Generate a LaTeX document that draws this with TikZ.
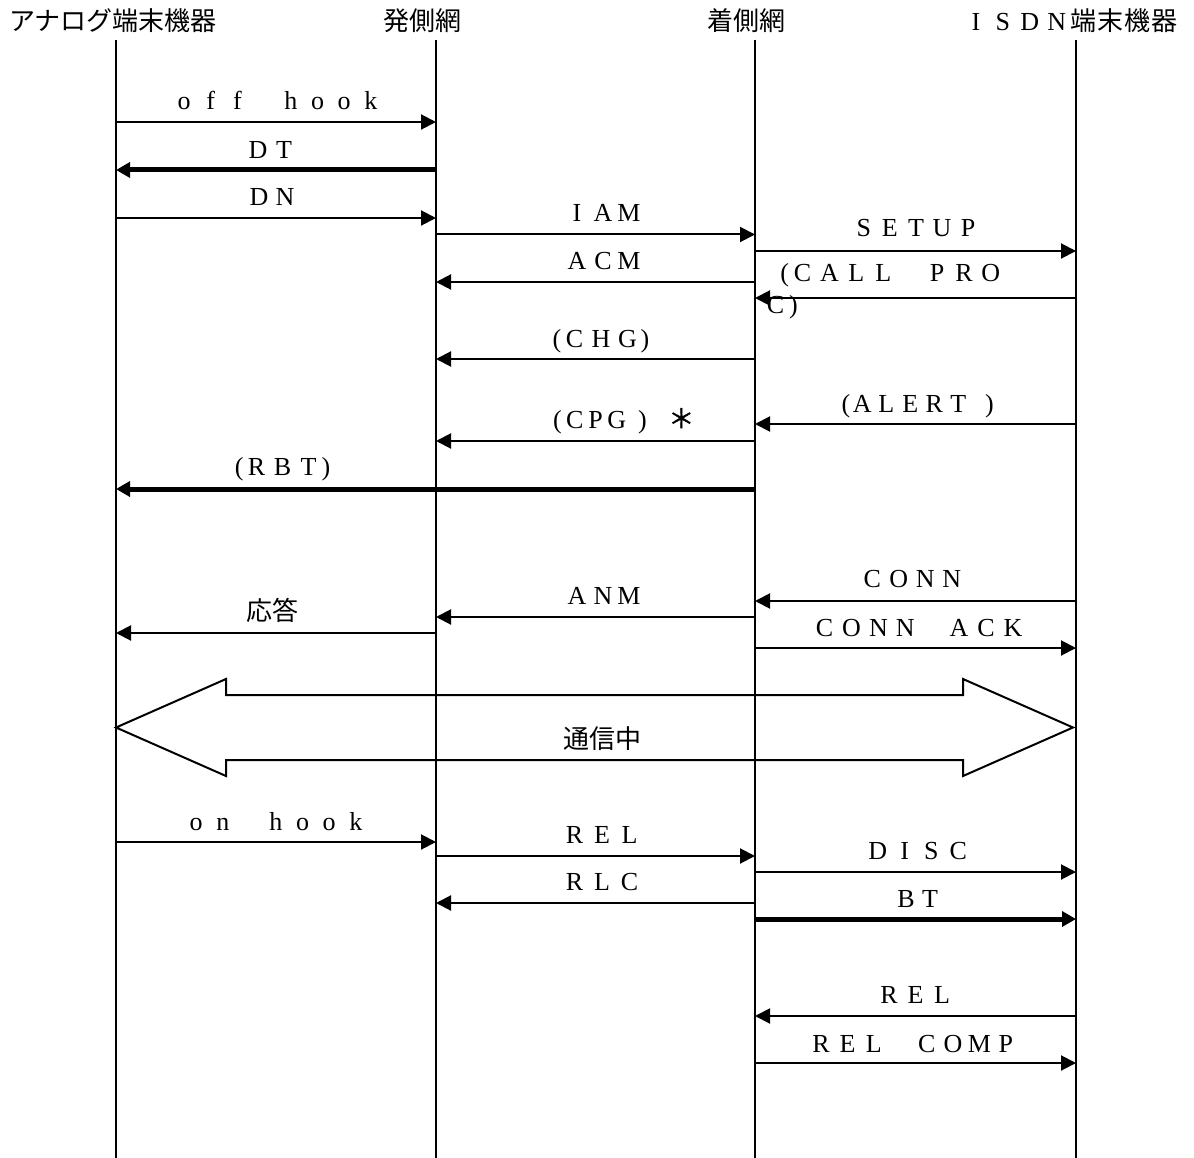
\documentclass[tikz,border=0pt]{standalone}
\usepackage{fontspec}
\setmainfont{Liberation Serif}
\newfontfamily\jp{Noto Sans CJK JP}
\newfontfamily\jpb[FakeBold=1.5]{Noto Sans CJK JP}
\usetikzlibrary{arrows.meta}

\newlength\fwp
\makeatletter
\def\fw@stop{\fw@stop}
\newcommand\fw[2][26pt]{\begingroup\setlength\fwp{#1}\fw@loop#2\fw@stop\endgroup}
\def\fw@loop#1{\ifx#1\fw@stop\else\makebox[\fwp][c]{#1}\expandafter\fw@loop\fi}
\makeatother
\newcommand\lp{\makebox[\fwp][r]{(}}
\newcommand\rp{\makebox[\fwp][l]{)}}

\tikzset{
  lifeline/.style={line width=2.2pt},
  msg/.style={line width=2pt,-{Triangle[length=15pt,width=15pt]}},
  thickmsg/.style={line width=5pt,-{Triangle[length=14pt,width=15pt]}},
  lbl/.style={anchor=base,inner sep=0pt,font=\fontsize{26}{30}\selectfont},
  jlbl/.style={anchor=base,inner sep=0pt,font=\jp\fontsize{26}{30}\selectfont},
  hdr/.style={anchor=base,inner sep=0pt,font=\jp\fontsize{26}{30}\selectfont},
  bigarrow/.style={line width=2pt,line join=miter}
}
\newcommand\msg[5]{%
  \coordinate (#1-s) at (#2,#4);
  \coordinate (#1-e) at (#3,#4);
  \draw[#5] (#1-s) -- (#1-e);}

\begin{document}
\begin{tikzpicture}[x=1pt,y=-1pt]
\useasboundingbox (0,0) rectangle (1194,1158);
\def\LA{116}\def\LB{436}\def\LC{755}\def\LD{1076}

% headers
\node[hdr] (h1) at (113,30.5) {アナログ端末機器};
\node[hdr] (h2) at (422,30.5) {発側網};
\node[hdr] (h3) at (746,30.5) {着側網};
\node[hdr,anchor=base east] (h4) at (1178,30.5) {{\rmfamily\fontsize{26}{30}\selectfont\fw[26.9pt]{ISDN}}\fw[26.9pt]{端末機器}};

% lifelines
\foreach \n/\x in {1/\LA,2/\LB,3/\LC,4/\LD}{
  \coordinate (t\n) at (\x,40);
  \coordinate (b\n) at (\x,1158);
  \draw[lifeline] (t\n) -- (b\n);
}

% messages
\msg{m1}{\LA}{\LB}{122}{msg}
\node[lbl] (l1) at (277.5,110) {\fw[26.7pt]{off~hook}};
\msg{m2}{\LB}{\LA}{170}{thickmsg}
\node[lbl] (l2) at (271,159) {\fw{DT}};
\msg{m3}{\LA}{\LB}{218}{msg}
\node[lbl] (l3) at (272,206) {\fw{DN}};
\msg{m4}{\LB}{\LC}{234.5}{msg}
\node[lbl] (l4) at (603,222) {\fw{IAM}};
\msg{m5}{\LC}{\LD}{251}{msg}
\node[lbl] (l5) at (916,237) {\fw[26.1pt]{SETUP}};
\msg{m6}{\LC}{\LB}{282}{msg}
\node[lbl] (l6) at (603,270) {\fw{ACM}};
\msg{m7}{\LD}{\LC}{298}{msg}
\node[lbl,anchor=base west] (l7a) at (762,282) {\fw[26.9pt]{\lp CALL~PRO}};
\node[lbl,anchor=base west] (l7b) at (762,313) {\fw[26.9pt]{C\rp}};
\msg{m8}{\LC}{\LB}{359}{msg}
\node[lbl] (l8) at (601,347) {\fw[26.5pt]{\lp CHG\rp}};
\msg{m9}{\LD}{\LC}{424}{msg}
\node[lbl,anchor=base west] (l9) at (826,412) {\fw[24pt]{\lp ALERT}\hspace{15pt})};
\msg{m10}{\LC}{\LB}{441}{msg}
\node[lbl,anchor=base west] (l10) at (553,428) {\makebox[11pt][l]{(}\fw[21pt]{CPG}\hspace{11pt})\hspace{22pt}\makebox[25pt][c]{\jpb ＊}};
\msg{m11}{\LC}{\LA}{489}{thickmsg}
\node[lbl] (l11) at (282.5,475) {\fw{\lp RBT\rp}};
\msg{m12}{\LD}{\LC}{601}{msg}
\node[lbl] (l12) at (912,587) {\fw[26.5pt]{CONN}};
\msg{m13}{\LC}{\LB}{617}{msg}
\node[lbl] (l13) at (603,604) {\fw{ANM}};
\msg{m14}{\LB}{\LA}{633}{msg}
\node[jlbl] (l14) at (272,620) {応答};
\msg{m15}{\LC}{\LD}{648}{msg}
\node[lbl] (l15) at (918.75,636) {\fw[26.9pt]{CONN~ACK}};

% communication arrow
\coordinate (da1) at (116,727.5);
\coordinate (da2) at (1073,727.5);
\draw[bigarrow] (da1) -- (226,679) -- (226,695) -- (963,695) -- (963,679) -- (da2)
  -- (963,776) -- (963,760) -- (226,760) -- (226,776) -- cycle;
\node[jlbl] (l16) at (602.5,748) {通信中};

\msg{m17}{\LA}{\LB}{842}{msg}
\node[lbl] (l17) at (276,830) {\fw[26.6pt]{on~hook}};
\msg{m18}{\LB}{\LC}{856}{msg}
\node[lbl] (l18) at (602,843) {\fw[27.5pt]{REL}};
\msg{m19}{\LC}{\LD}{872}{msg}
\node[lbl] (l19) at (918,859) {\fw[26.8pt]{DISC}};
\msg{m20}{\LC}{\LB}{903}{msg}
\node[lbl] (l20) at (602,890) {\fw[27.5pt]{RLC}};
\msg{m21}{\LC}{\LD}{919}{thickmsg}
\node[lbl] (l21) at (918,907) {\fw[24pt]{BT}};
\msg{m22}{\LD}{\LC}{1016}{msg}
\node[lbl] (l22) at (915.5,1003) {\fw[26.5pt]{REL}};
\msg{m23}{\LC}{\LD}{1063}{msg}
\node[lbl] (l23) at (913.5,1052) {\fw[26.4pt]{REL~COMP}};
\end{tikzpicture}
\end{document}
